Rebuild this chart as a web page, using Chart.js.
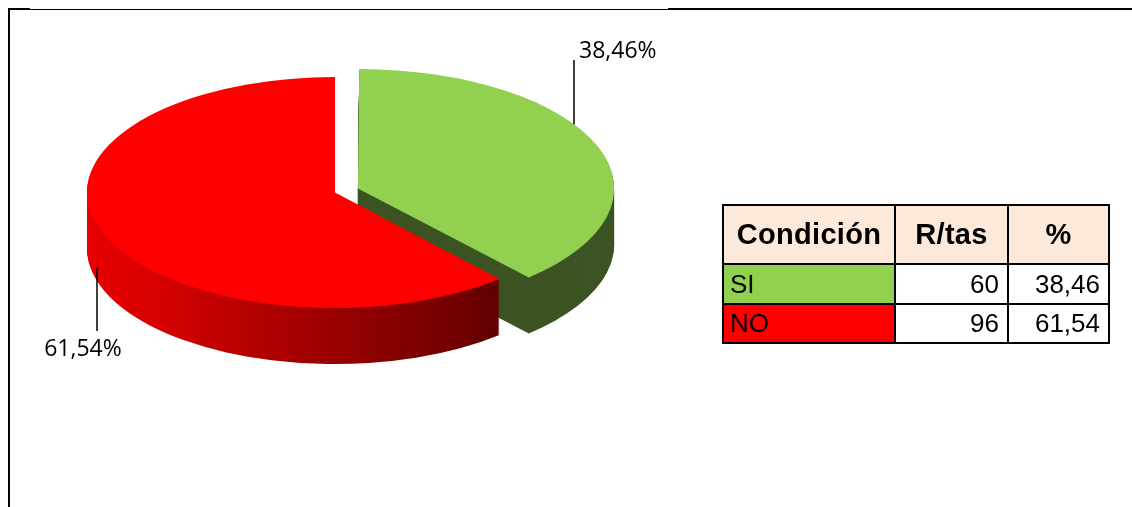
<!DOCTYPE html>
<html>
<head>
<meta charset="utf-8">
<script src="https://cdn.jsdelivr.net/npm/chart.js@4.4.0/dist/chart.umd.min.js"></script>
<style>
	html, body { margin: 0; padding: 0; background: #fff; }
	#wrap { position: relative; width: 1132px; height: 507px; overflow: hidden; background: #fff; }
	#pie { position: absolute; left: 0; top: 0; }
	.rule { position: absolute; background: #000; }
	.cond {
		position: absolute; left: 722px; top: 204px;
		display: grid; grid-template-columns: 172px 113px 101px; grid-template-rows: 59px 40px 39px;
		border-left: 2px solid #000; border-top: 2px solid #000;
		font-family: "Liberation Sans", Arial, sans-serif; color: #000;
	}
	.cond div {
		box-sizing: border-box; border-right: 2px solid #000; border-bottom: 2px solid #000;
		display: flex; align-items: center; white-space: nowrap;
	}
	.cond .hd { background: #fde9d9; font-weight: bold; font-size: 29px; justify-content: center; letter-spacing: 0.3px; }
	.cond .cat { font-size: 26px; padding-left: 6px; }
	.cond .num { font-size: 26px; justify-content: flex-end; padding-right: 8px; background: #fff; }
</style>
</head>
<body>
<div id="wrap">
	<canvas id="pie" width="1132" height="507"></canvas>
	<div class="rule" style="left:8px; top:8px; width:2px; height:499px;"></div>
	<div class="rule" style="left:8px; top:8px; width:22px; height:2px;"></div>
	<div class="rule" style="left:10px; top:9px; width:658px; height:1px;"></div>
	<div class="rule" style="left:668px; top:8px; width:464px; height:2px;"></div>
	<div class="cond" id="tbl"></div>
</div>
<script>
// --- data ----------------------------------------------------------------------
const categories   = ['SI', 'NO'];
const counts       = [60, 96];
const percents     = [38.46, 61.54];
const tableHeaders = ['Condición', 'R/tas', '%'];
const topColors    = ['#92d050', '#fe0000'];
const sideColors   = ['#3c5423', null];   // null -> red gradient

// --- look ----------------------------------------------------------------------
const RADIUS  = 248;      // pie radius before tilt
const TILT    = 0.466;    // vertical squash of the top face
const DEPTH   = 56;       // height of the extruded side
const EXPLODE = [98, 0];  // chart.js offset per slice

function fmtPct(v) { return v.toFixed(2).replace('.', ','); }

function el(tag, attrs, children) {
	const node = document.createElement(tag);
	if (attrs) {
		for (const k in attrs) {
			if (k === 'class')      node.className = attrs[k];
			else if (k === 'text')  node.textContent = attrs[k];
			else if (k === 'style') node.setAttribute('style', attrs[k]);
			else                    node.setAttribute(k, attrs[k]);
		}
	}
	if (children) children.forEach(c => c && node.appendChild(c));
	return node;
}

// --- table ---------------------------------------------------------------------
const tbl = document.getElementById('tbl');
tableHeaders.forEach(h => tbl.appendChild(el('div', { class: 'hd', text: h })));
categories.forEach((c, i) => {
	tbl.appendChild(el('div', { class: 'cat', text: c, style: 'background:' + topColors[i] }));
	tbl.appendChild(el('div', { class: 'num', text: String(counts[i]) }));
	tbl.appendChild(el('div', { class: 'num', text: fmtPct(percents[i]) }));
});

// --- 3d pie plugin ---------------------------------------------------------------
function tilt(ctx, cx, cy) {
	ctx.translate(cx, cy);
	ctx.scale(1, TILT);
	ctx.translate(-cx, -cy);
}

const pie3d = {
	id: 'pie3d',
	beforeDatasetsDraw(chart) {
		const ctx  = chart.ctx;
		const arcs = chart.getDatasetMeta(0).data;
		if (!arcs.length) return;
		const cx = arcs[0].x, cy = arcs[0].y;

		const grad = ctx.createLinearGradient(cx - RADIUS, 0, cx + RADIUS * 0.74, 0);
		grad.addColorStop(0, '#e80000');
		grad.addColorStop(0.15, '#d80000');
		grad.addColorStop(0.5, '#a40000');
		grad.addColorStop(1, '#5c0000');

		for (let d = DEPTH; d >= 1; d--) {
			arcs.forEach((arc, i) => {
				ctx.save();
				ctx.translate(0, d);
				tilt(ctx, cx, cy);
				const side = Object.create(arc);
				side.options = Object.assign({}, arc.options, { backgroundColor: sideColors[i] || grad, borderWidth: 0 });
				arc.draw.call(side, ctx);
				ctx.restore();
			});
		}
		ctx.save();
		tilt(ctx, cx, cy);
	},
	afterDatasetsDraw(chart) {
		chart.ctx.restore();
	}
};

// --- percentage labels with leader lines -----------------------------------------
const labelSpots = [
	{ lineX: 574, lineEnd: 60,  textX: 579, textY: 58,  align: 'left' },
	{ lineX: 97,  lineEnd: 331, textX: 83,  textY: 356, align: 'center' }
];

const pctLabels = {
	id: 'pctLabels',
	afterDraw(chart) {
		const ctx  = chart.ctx;
		const arcs = chart.getDatasetMeta(0).data;
		arcs.forEach((arc, i) => {
			const spot = labelSpots[i];
			const mid  = (arc.startAngle + arc.endAngle) / 2;
			const shift = (EXPLODE[i] / 4) * (1 + 1 - Math.sin(Math.min(Math.PI, arc.circumference)));
			const ox = arc.x + Math.cos(mid) * shift;
			const oy = arc.y + Math.sin(mid) * shift * TILT;
			const dx = (spot.lineX - ox) / arc.outerRadius;
			const h  = arc.outerRadius * TILT * Math.sqrt(Math.max(0, 1 - dx * dx));
			// upper labels meet the top rim, lower ones start inside the side wall
			const edgeY = spot.lineEnd < oy ? oy - h : oy + h + DEPTH * 0.76;

			ctx.save();
			ctx.strokeStyle = '#000';
			ctx.lineWidth = 1.5;
			ctx.beginPath();
			ctx.moveTo(spot.lineX, edgeY);
			ctx.lineTo(spot.lineX, spot.lineEnd);
			ctx.stroke();
			ctx.fillStyle = '#000';
			ctx.font = '23px "Open Sans", "Noto Sans", sans-serif';
			ctx.textAlign = spot.align;
			ctx.textBaseline = 'alphabetic';
			ctx.fillText(fmtPct(percents[i]) + '%', spot.textX, spot.textY);
			ctx.restore();
		});
	}
};

new Chart(document.getElementById('pie'), {
	type: 'pie',
	data: {
		labels: categories,
		datasets: [{
			data: counts,
			backgroundColor: topColors,
			borderWidth: 0,
			offset: EXPLODE,
			clip: false
		}]
	},
	options: {
		responsive: false,
		animation: false,
		events: [],
		radius: RADIUS,
		layout: { padding: { left: 0, right: 462, top: 0, bottom: 122 } },
		plugins: { legend: { display: false }, tooltip: { enabled: false } }
	},
	plugins: [pie3d, pctLabels]
});
</script>
</body>
</html>
